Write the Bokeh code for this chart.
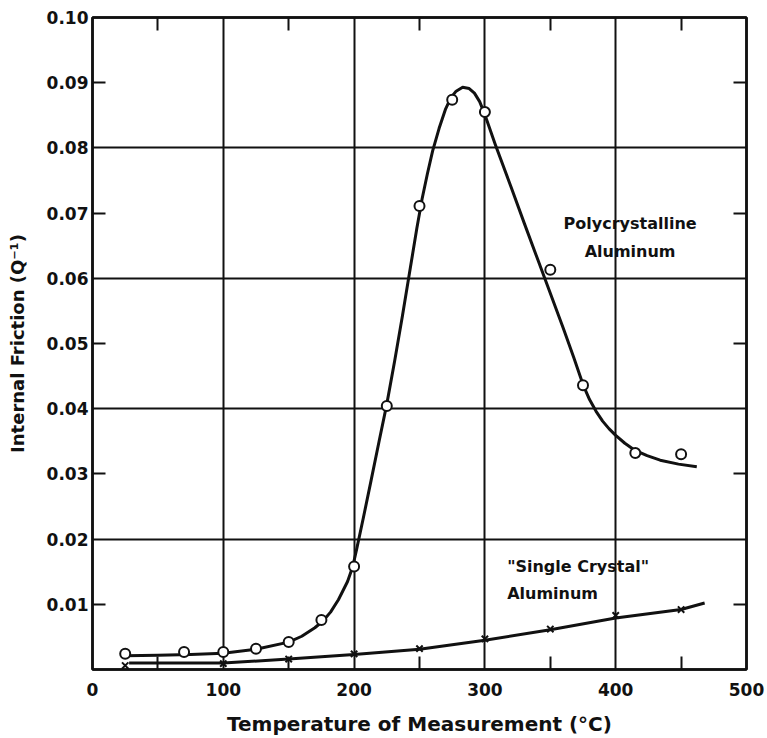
from bokeh.plotting import figure
from bokeh.models import (FixedTicker, LinearAxis, Label, NumeralTickFormatter,
                          CustomJSTickFormatter, Range1d)
from bokeh.embed import file_html
from bokeh.resources import INLINE

# ---- data ----
# Polycrystalline aluminum: measured points (circles)
poly_temp = [25, 70, 100, 125, 150, 175, 200, 225, 250, 275, 300, 350, 375, 415, 450]
poly_q = [0.0024, 0.0027, 0.0027, 0.0032, 0.0042, 0.0076, 0.0158, 0.0404, 0.0711,
          0.0874, 0.0855, 0.0613, 0.0436, 0.0332, 0.0330]
# Polycrystalline aluminum: drawn smooth curve (traced)
poly_curve_temp = [25, 50, 75, 100, 125, 150, 160, 170, 176, 182, 188, 195, 199, 202,
                   207, 213, 219, 225, 231, 237, 243, 248, 252, 256, 260, 265, 270,
                   274, 278, 283, 288, 292, 296, 300, 304, 308, 320, 330, 340, 350,
                   360, 368, 375, 380, 385, 390, 395, 400, 407, 414, 424, 434, 448, 462]
poly_curve_q = [0.0021, 0.0022, 0.0023, 0.0025, 0.0031, 0.0042, 0.0051, 0.0064, 0.0074,
                0.0088, 0.0107, 0.0135, 0.0158, 0.0185, 0.0232, 0.0290, 0.0349, 0.0407,
                0.0473, 0.0543, 0.0616, 0.0677, 0.0722, 0.0760, 0.0795, 0.0830, 0.0860,
                0.0877, 0.0887, 0.0893, 0.0891, 0.0884, 0.0871, 0.0851, 0.0828, 0.0805,
                0.0740, 0.0685, 0.0631, 0.0577, 0.0523, 0.0478, 0.0437, 0.0414, 0.0396,
                0.0381, 0.0369, 0.0359, 0.0347, 0.0337, 0.0328, 0.0321, 0.0315, 0.0311]
# "Single crystal" aluminum: measured points (x marks)
single_temp = [25, 100, 150, 200, 250, 300, 350, 400, 450]
single_q = [0.0006, 0.0009, 0.0016, 0.0024, 0.0032, 0.0047, 0.0062, 0.0083, 0.0092]
# "Single crystal" aluminum: drawn line (traced)
single_curve_temp = [28, 100, 150, 200, 250, 300, 350, 400, 450, 468]
single_curve_q = [0.0010, 0.0010, 0.0016, 0.0023, 0.0031, 0.0045, 0.0061, 0.0079, 0.0092, 0.0102]

x_ticks = [0, 100, 200, 300, 400, 500]
x_minor = [50, 150, 250, 350, 450]
x_grid = [100, 200, 300, 400]
y_ticks = [0.01, 0.02, 0.03, 0.04, 0.05, 0.06, 0.07, 0.08, 0.09, 0.10]
y_minor = [0.01, 0.03, 0.05, 0.07, 0.09]
y_grid = [0.02, 0.04, 0.06, 0.08]

FONT = "DejaVu Sans"
INK = "#111111"

p = figure(width=767, height=738, output_backend="svg", toolbar_location=None,
           x_range=Range1d(0, 500), y_range=Range1d(0, 0.10),
           min_border_left=92, min_border_right=21, min_border_top=17,
           min_border_bottom=69, x_axis_location=None, y_axis_location=None)
p.background_fill_color = "white"
p.border_fill_color = "white"
p.outline_line_color = INK
p.outline_line_width = 2.5


def style_axis(ax, ticks, minor, labels, fmt=None):
    ax.ticker = FixedTicker(ticks=ticks, minor_ticks=minor)
    ax.axis_line_color = INK
    ax.axis_line_width = 2.5
    ax.major_tick_in = 0
    ax.major_tick_out = 0
    ax.minor_tick_in = 13
    ax.minor_tick_out = 0
    ax.minor_tick_line_color = INK
    ax.minor_tick_line_width = 2
    if labels:
        ax.formatter = fmt
        ax.major_label_text_font = FONT
        ax.major_label_text_font_style = "bold"
        ax.major_label_text_font_size = "17px"
        ax.major_label_text_color = INK
        ax.axis_label_text_font = FONT
        ax.axis_label_text_font_style = "bold"
        ax.axis_label_text_color = INK
    else:
        ax.formatter = CustomJSTickFormatter(code="return ''")


xb = LinearAxis(axis_label="Temperature of Measurement (°C)")
style_axis(xb, x_ticks, x_minor, True, NumeralTickFormatter(format="0"))
xb.axis_label_text_font_size = "20px"
xb.major_label_standoff = 13
xb.axis_label_standoff = 13
p.add_layout(xb, "below")

yl = LinearAxis(axis_label="Internal Friction (Q\u207b\u00b9)")
style_axis(yl, y_ticks, y_minor, True, NumeralTickFormatter(format="0.00"))
yl.axis_label_text_font_size = "18px"
yl.major_label_standoff = 4
yl.axis_label_standoff = 16
p.add_layout(yl, "left")

xt = LinearAxis()
style_axis(xt, x_ticks, x_minor, False)
p.add_layout(xt, "above")

yr = LinearAxis()
style_axis(yr, y_ticks, y_minor, False)
p.add_layout(yr, "right")

p.xgrid.ticker = FixedTicker(ticks=x_grid)
p.ygrid.ticker = FixedTicker(ticks=y_grid)
for g in (p.xgrid, p.ygrid):
    g.grid_line_color = INK
    g.grid_line_width = 2
    g.grid_line_alpha = 1.0

# curves
p.line(single_curve_temp, single_curve_q, line_color=INK, line_width=3, line_join="round")
p.line(poly_curve_temp, poly_curve_q, line_color=INK, line_width=3, line_join="round")
# markers
p.scatter(single_temp, single_q, marker="x", size=9, line_color=INK, line_width=2)
p.scatter(poly_temp, poly_q, marker="circle", size=10, fill_color="white",
          line_color=INK, line_width=2)

# annotations
for txt, yy in (("Polycrystalline", 0.0684), ("Aluminum", 0.0641)):
    p.add_layout(Label(x=411, y=yy, text=txt, text_align="center", text_baseline="middle",
                       text_font=FONT, text_font_style="bold", text_font_size="16px",
                       text_color=INK))
for txt, yy in (("\"Single Crystal\"", 0.0158), ("Aluminum", 0.0117)):
    p.add_layout(Label(x=317, y=yy, text=txt, text_align="left", text_baseline="middle",
                       text_font=FONT, text_font_style="bold", text_font_size="16px",
                       text_color=INK))

open("out.html", "w").write(file_html(p, INLINE))
